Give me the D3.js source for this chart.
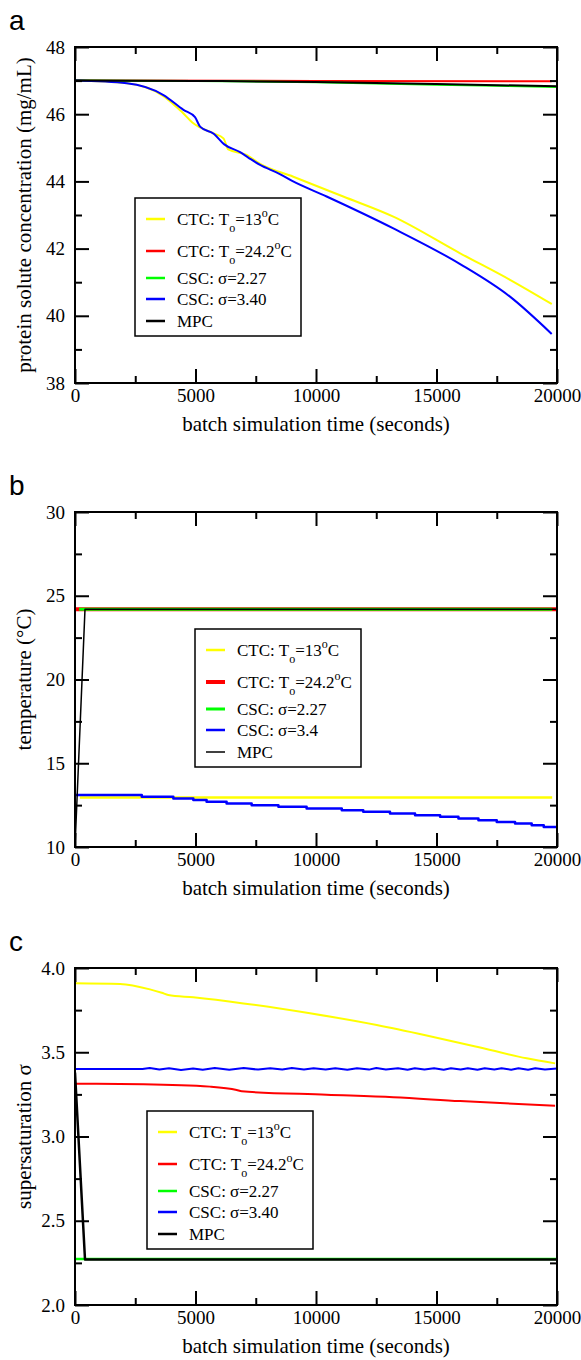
<!DOCTYPE html>
<html>
<head>
<meta charset="utf-8">
<script src="https://cdn.jsdelivr.net/npm/d3@7"></script>
<style>
  body { margin: 0; background: #fff; }
  text { font-family: "Liberation Serif", "Times New Roman", serif; fill: #000; }
  .letter { font-family: "Liberation Sans", Arial, sans-serif; }
</style>
</head>
<body>
<svg id="chart" width="581" height="1360"></svg>
<script>
// x axis, shared by all three panels
var timeDomain = [0, 20000];
var timeTicks = [0, 5000, 10000, 15000, 20000];
var timeMinor = [2500, 7500, 12500, 17500];

var seriesNames = ["CTC13", "CTC24", "CSC227", "CSC340", "MPC"];
var seriesColors = ["#ffff00", "#ff0000", "#00ff00", "#0000ff", "#000000"];

// panel a: protein solute concentration (mg/mL)
var concTicks = [38, 40, 42, 44, 46, 48];
var concMinor = [39, 41, 43, 45, 47];
var concLegend = ["CTC: T_o=13^oC", "CTC: T_o=24.2^oC", "CSC: σ=2.27", "CSC: σ=3.40", "MPC"];
var concCTC13 = [[0, 47], [2150, 46.92], [3670, 46.54], [4430, 46.07], [4910, 45.73], [5740, 45.43],
  [6160, 45.28], [6360, 44.95], [7120, 44.79], [7680, 44.52], [9060, 44.14], [11130, 43.55],
  [13210, 42.95], [15980, 41.86], [18050, 41.07], [19780, 40.35]];
var concCTC24 = [[0, 47], [10000, 46.99], [19780, 46.98]];
var concCSC227 = [[0, 47], [5000, 46.99], [10000, 46.95], [15000, 46.88], [20000, 46.81]];
var concCSC340 = [[0, 47], [2150, 46.92], [3670, 46.57], [4500, 46.13], [4980, 45.91], [5190, 45.63],
  [5770, 45.41], [6180, 45.11], [6850, 44.87], [7190, 44.71], [7680, 44.49], [8440, 44.24],
  [8990, 44.02], [10440, 43.55], [13210, 42.6], [15980, 41.54], [18050, 40.57], [19780, 39.46]];
var concMPC = [[0, 47], [5000, 46.99], [10000, 46.96], [15000, 46.9], [20000, 46.83]];

// panel b: temperature (°C)
var tempTicks = [10, 15, 20, 25, 30];
var tempMinor = [12.5, 17.5, 22.5, 27.5];
var tempLegend = ["CTC: T_o=13^oC", "CTC: T_o=24.2^oC", "CSC: σ=2.27", "CSC: σ=3.4", "MPC"];
var tempCTC13 = [[200, 12.95], [19800, 12.95]];
var tempCTC24 = [[0, 24.2], [20000, 24.2]];
var tempCSC227 = [[170, 24.2], [19800, 24.2]];
var tempCSC340 = [[0, 13.1], [2770, 13.0], [4080, 12.9], [4910, 12.8], [5460, 12.7], [6290, 12.6],
  [7330, 12.5], [8440, 12.4], [9610, 12.3], [11070, 12.2], [11960, 12.1], [13070, 12.0],
  [14110, 11.9], [15150, 11.8], [15910, 11.7], [16740, 11.6], [17500, 11.5], [18260, 11.4],
  [18950, 11.3], [19450, 11.2], [20000, 11.2]];
var tempMPC = [[0, 10], [415, 24.2], [20000, 24.2]];

// panel c: supersaturation
var sigmaTicks = [2.0, 2.5, 3.0, 3.5, 4.0];
var sigmaMinor = [2.25, 2.75, 3.25, 3.75];
var sigmaLegend = ["CTC: T_o=13^oC", "CTC: T_o=24.2^oC", "CSC: σ=2.27", "CSC: σ=3.40", "MPC"];
var sigmaCTC13 = [[0, 3.91], [1870, 3.905], [3110, 3.873], [3600, 3.853], [3870, 3.84], [4910, 3.826],
  [6990, 3.79], [9750, 3.731], [12520, 3.662], [14590, 3.6], [16670, 3.533], [18740, 3.464], [19920, 3.434]];
var sigmaCTC24 = [[0, 3.313], [2840, 3.31], [5600, 3.296], [6710, 3.276], [6920, 3.268], [10440, 3.248],
  [13210, 3.233], [15980, 3.21], [19920, 3.183]];
var sigmaCSC227 = [[0, 2.273], [20000, 2.273]];
var sigmaCSC340 = [[0, 3.4], [2800, 3.4], [3100, 3.407], [3500, 3.398], [3900, 3.405], [4400, 3.395],
  [4900, 3.404], [5300, 3.396], [5800, 3.406], [6400, 3.396], [7000, 3.406], [7600, 3.397],
  [8100, 3.405], [8600, 3.397], [9000, 3.406], [9500, 3.398], [9900, 3.405], [10400, 3.397],
  [10800, 3.405], [11300, 3.396], [11700, 3.405], [12200, 3.397], [12500, 3.406], [12900, 3.397],
  [13400, 3.405], [13800, 3.396], [14100, 3.405], [14500, 3.397], [14900, 3.405], [15300, 3.396],
  [15600, 3.405], [16000, 3.397], [16300, 3.405], [16700, 3.396], [17000, 3.405], [17400, 3.397],
  [17700, 3.405], [18100, 3.396], [18400, 3.405], [18800, 3.396], [19100, 3.405], [19500, 3.397],
  [20000, 3.403]];
var sigmaMPC = [[0, 3.38], [415, 2.27], [20000, 2.27]];

var svg = d3.select("#chart");
svg.append("rect").attr("width", 581).attr("height", 1360).attr("fill", "#fff");

var left = 75, right = 557;
var curveTypes = {
  linear: d3.curveLinear,
  smooth: d3.curveMonotoneX,
  step: d3.curveStepAfter
};

function drawPanel(p) {
  var x = d3.scaleLinear().domain(timeDomain).range([left, right]);
  var y = d3.scaleLinear().domain(p.yDomain).range([p.bottom, p.top]);
  var g = svg.append("g");

  g.append("text").attr("class", "letter")
    .attr("x", 9).attr("y", p.top - 17)
    .style("font-size", "28px")
    .text(p.letter);

  g.append("clipPath").attr("id", "clip" + p.letter)
    .append("rect")
    .attr("x", left).attr("y", p.top)
    .attr("width", right - left).attr("height", p.bottom - p.top);

  var line = d3.line()
    .x(function (d) { return x(d[0]); })
    .y(function (d) { return y(d[1]); });

  var lines = g.append("g").attr("clip-path", "url(#clip" + p.letter + ")");
  p.series.forEach(function (s, i) {
    lines.append("path")
      .attr("d", line.curve(curveTypes[p.curves[i]])(s))
      .attr("fill", "none")
      .attr("stroke", seriesColors[i])
      .attr("stroke-width", p.widths[i])
      .attr("stroke-linejoin", "round");
  });

  // axes: ticks point into the plot on all four sides
  function styleAxis(sel) {
    sel.attr("font-family", null);
    sel.selectAll(".domain").remove();
    sel.selectAll("line").attr("stroke", "#000").attr("stroke-width", 2);
    sel.selectAll("text").style("font-size", "19px").attr("fill", "#000");
  }

  g.append("g").attr("transform", "translate(0," + p.bottom + ")")
    .call(d3.axisBottom(x).tickValues(timeTicks).tickSize(-14).tickPadding(6).tickFormat(d3.format("d")))
    .call(styleAxis);
  g.append("g").attr("transform", "translate(0," + p.bottom + ")")
    .call(d3.axisBottom(x).tickValues(timeMinor).tickSize(-7).tickFormat(""))
    .call(styleAxis);
  g.append("g").attr("transform", "translate(0," + p.top + ")")
    .call(d3.axisTop(x).tickValues(timeTicks).tickSize(-14).tickFormat(""))
    .call(styleAxis);
  g.append("g").attr("transform", "translate(0," + p.top + ")")
    .call(d3.axisTop(x).tickValues(timeMinor).tickSize(-7).tickFormat(""))
    .call(styleAxis);
  g.append("g").attr("transform", "translate(" + left + ",0)")
    .call(d3.axisLeft(y).tickValues(p.yTicks).tickSize(-14).tickPadding(10).tickFormat(p.yFormat))
    .call(styleAxis);
  g.append("g").attr("transform", "translate(" + left + ",0)")
    .call(d3.axisLeft(y).tickValues(p.yMinor).tickSize(-7).tickFormat(""))
    .call(styleAxis);
  g.append("g").attr("transform", "translate(" + right + ",0)")
    .call(d3.axisRight(y).tickValues(p.yTicks).tickSize(-14).tickFormat(""))
    .call(styleAxis);
  g.append("g").attr("transform", "translate(" + right + ",0)")
    .call(d3.axisRight(y).tickValues(p.yMinor).tickSize(-7).tickFormat(""))
    .call(styleAxis);

  g.append("rect")
    .attr("x", left).attr("y", p.top)
    .attr("width", right - left).attr("height", p.bottom - p.top)
    .attr("fill", "none").attr("stroke", "#000").attr("stroke-width", 2);

  g.append("text")
    .attr("x", (left + right) / 2).attr("y", p.bottom + 48)
    .attr("text-anchor", "middle")
    .style("font-size", "21px")
    .text("batch simulation time (seconds)");

  g.append("text")
    .attr("transform", "translate(31," + (p.top + p.bottom) / 2 + ") rotate(-90)")
    .attr("text-anchor", "middle")
    .style("font-size", "21px")
    .text(p.yTitle);

  // legend
  var lg = g.append("g").attr("transform", "translate(" + p.legend[0] + "," + p.legend[1] + ")");
  lg.append("rect").attr("width", 166).attr("height", 138)
    .attr("fill", "#fff").attr("stroke", "#000").attr("stroke-width", 1.5);
  var rowY = [21, 53, 80, 101, 123];
  p.legendNames.forEach(function (name, i) {
    lg.append("line")
      .attr("x1", 11).attr("x2", 30).attr("y1", rowY[i]).attr("y2", rowY[i])
      .attr("stroke", seriesColors[i]).attr("stroke-width", p.legendWidths[i]);
    var t = lg.append("text").attr("x", 42).attr("y", rowY[i] + 6).style("font-size", "17px");
    var parts = name.split(/([_^]o)/);
    var shift = 0;
    parts.forEach(function (part) {
      if (part === "") return;
      if (part === "_o" || part === "^o") {
        var d = part === "_o" ? 7 : -8;
        t.append("tspan").attr("dy", d - shift).style("font-size", "12px").text("o");
        shift = d;
      } else {
        t.append("tspan").attr("dy", -shift).text(part);
        shift = 0;
      }
    });
  });
}

drawPanel({
  letter: "a", top: 47, bottom: 383,
  yDomain: [38, 48], yTicks: concTicks, yMinor: concMinor, yFormat: d3.format("d"),
  yTitle: "protein solute concentration (mg/mL)",
  series: [concCTC13, concCTC24, concCSC227, concCSC340, concMPC],
  curves: ["smooth", "linear", "smooth", "smooth", "smooth"],
  widths: [2, 2, 2, 2, 2],
  legend: [135, 198], legendNames: concLegend, legendWidths: [2.5, 2.5, 2.5, 2.5, 2.5]
});

drawPanel({
  letter: "b", top: 512, bottom: 847,
  yDomain: [10, 30], yTicks: tempTicks, yMinor: tempMinor, yFormat: d3.format("d"),
  yTitle: "temperature (°C)",
  series: [tempCTC13, tempCTC24, tempCSC227, tempCSC340, tempMPC],
  curves: ["linear", "linear", "linear", "step", "linear"],
  widths: [2.5, 4, 3, 2.5, 1.5],
  legend: [195, 629], legendNames: tempLegend, legendWidths: [2.5, 4, 3, 2.5, 1.5]
});

drawPanel({
  letter: "c", top: 968, bottom: 1305,
  yDomain: [2, 4], yTicks: sigmaTicks, yMinor: sigmaMinor, yFormat: d3.format(".1f"),
  yTitle: "supersaturation σ",
  series: [sigmaCTC13, sigmaCTC24, sigmaCSC227, sigmaCSC340, sigmaMPC],
  curves: ["smooth", "smooth", "linear", "linear", "linear"],
  widths: [2, 2, 2.5, 2, 2.5],
  legend: [147, 1111], legendNames: sigmaLegend, legendWidths: [2.5, 2.5, 2.5, 2.5, 2.5]
});
</script>
</body>
</html>
